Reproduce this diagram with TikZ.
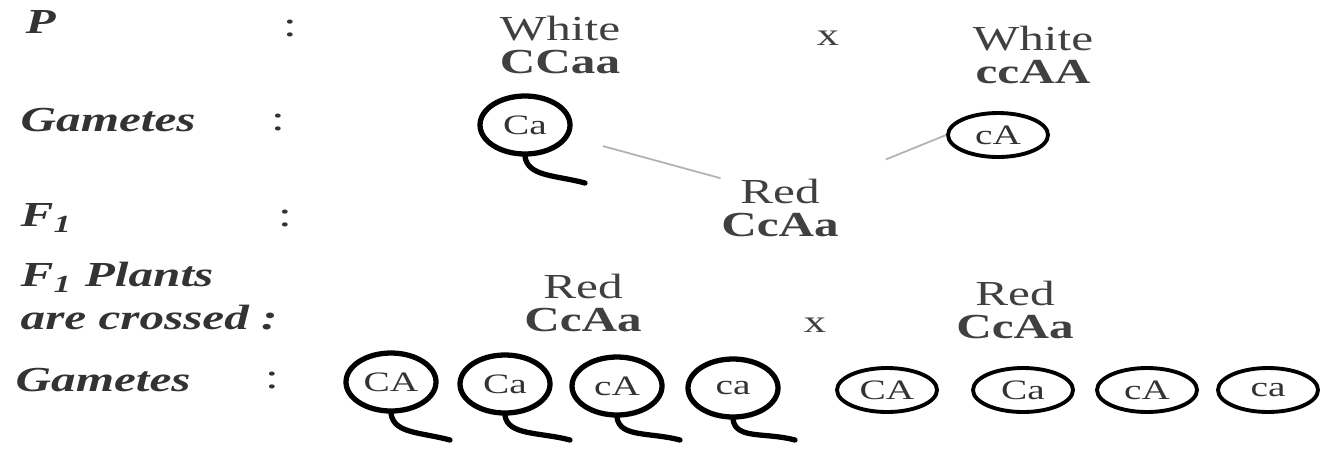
\documentclass[tikz,border=0pt]{standalone}
\usepackage{fontspec}
\setmainfont[FakeStretch=1.4]{Liberation Serif}
\usetikzlibrary{shapes.geometric}

\begin{document}
\begin{tikzpicture}[
        lbl/.style={anchor=west,font=\bfseries\itshape,text=black!80,
          inner sep=0pt,align=left},
        geno/.style={align=center,text=black!75,inner sep=0pt,
          font=\fontsize{10}{9.5}\selectfont},
        gam/.style={ellipse,draw=black,line width=1.5pt,text=black!80,
          font=\fontsize{8}{9}\selectfont,
          inner sep=0pt,minimum width=9mm,minimum height=5.8mm},
        flat/.style={ellipse,draw=black,line width=1.1pt,text=black!80,
          font=\fontsize{8}{9}\selectfont,
          inner sep=0pt,minimum width=10mm,minimum height=4.4mm},
        tail/.style={line width=1.5pt,line cap=round},
        link/.style={draw=black!30,line width=0.5pt}]
      \useasboundingbox (0,0) rectangle (13.2,-4.5);
      % row labels
      \node (lp) at (0.25,-0.22) [lbl] {P};
      \node (lg) at (0.20,-1.20) [lbl] {Gametes};
      \node (lf) at (0.20,-2.18) [lbl] {F\textsubscript{1}};
      \node (lc) at (0.20,-2.96) [lbl] {F\textsubscript{1} Plants\\are crossed :};
      \node (lh) at (0.15,-3.80) [lbl] {Gametes};
      \node (c1) at (2.90,-0.28) [text=black!80] {:};
      \node (c2) at (2.78,-1.22) [text=black!80] {:};
      \node (c3) at (2.85,-2.18) [text=black!80] {:};
      \node (c4) at (2.72,-3.80) [text=black!80] {:};
      % parents
      \node (p1) at (5.60,-0.45) [geno] {White\\\textbf{CCaa}};
      \node (x1) at (8.28,-0.38) [geno,font=\small] {x};
      \node (p2) at (10.33,-0.55) [geno] {White\\\textbf{ccAA}};
      \node (ga) at (5.25,-1.25) [gam] {Ca};
      \node (gb) at (9.98,-1.35) [flat] {cA};
      \coordinate (ta) at (5.85,-1.83);
      \draw[tail] (ga.south) .. controls +(0.03,-0.2) and +(-0.3,0.08) .. (ta);
      % F1
      \node (f1) at (7.80,-2.08) [geno] {Red\\\textbf{CcAa}};
      \draw[link,shorten <=3.5mm] (ga.-15) -- (f1.north west);
      \draw[link,shorten >=5mm] (gb.west) -- (f1.north east);
      % F1 x F1
      \node (r1) at (5.83,-3.03) [geno] {Red\\\textbf{CcAa}};
      \node (x2) at (8.15,-3.25) [geno,font=\small] {x};
      \node (r2) at (10.15,-3.10) [geno] {Red\\\textbf{CcAa}};
      % gametes of first plant
      \node (b1) at (3.91,-3.82) [gam] {CA};
      \node (b2) at (5.05,-3.84) [gam] {Ca};
      \node (b3) at (6.17,-3.86) [gam] {cA};
      \node (b4) at (7.33,-3.88) [gam] {ca};
      \coordinate (t1) at (4.50,-4.40);
      \coordinate (t2) at (5.70,-4.40);
      \coordinate (t3) at (6.80,-4.40);
      \coordinate (t4) at (7.95,-4.40);
      \draw[tail] (b1.south) .. controls +(0.03,-0.2) and +(-0.3,0.08) .. (t1);
      \draw[tail] (b2.south) .. controls +(0.03,-0.2) and +(-0.3,0.08) .. (t2);
      \draw[tail] (b3.south) .. controls +(0.03,-0.2) and +(-0.3,0.08) .. (t3);
      \draw[tail] (b4.south) .. controls +(0.03,-0.2) and +(-0.3,0.08) .. (t4);
      % gametes of second plant
      \node (d1) at (8.87,-3.90) [flat] {CA};
      \node (d2) at (10.23,-3.90) [flat] {Ca};
      \node (d3) at (11.47,-3.90) [flat] {cA};
      \node (d4) at (12.68,-3.90) [flat] {ca};
\end{tikzpicture}
\end{document}
